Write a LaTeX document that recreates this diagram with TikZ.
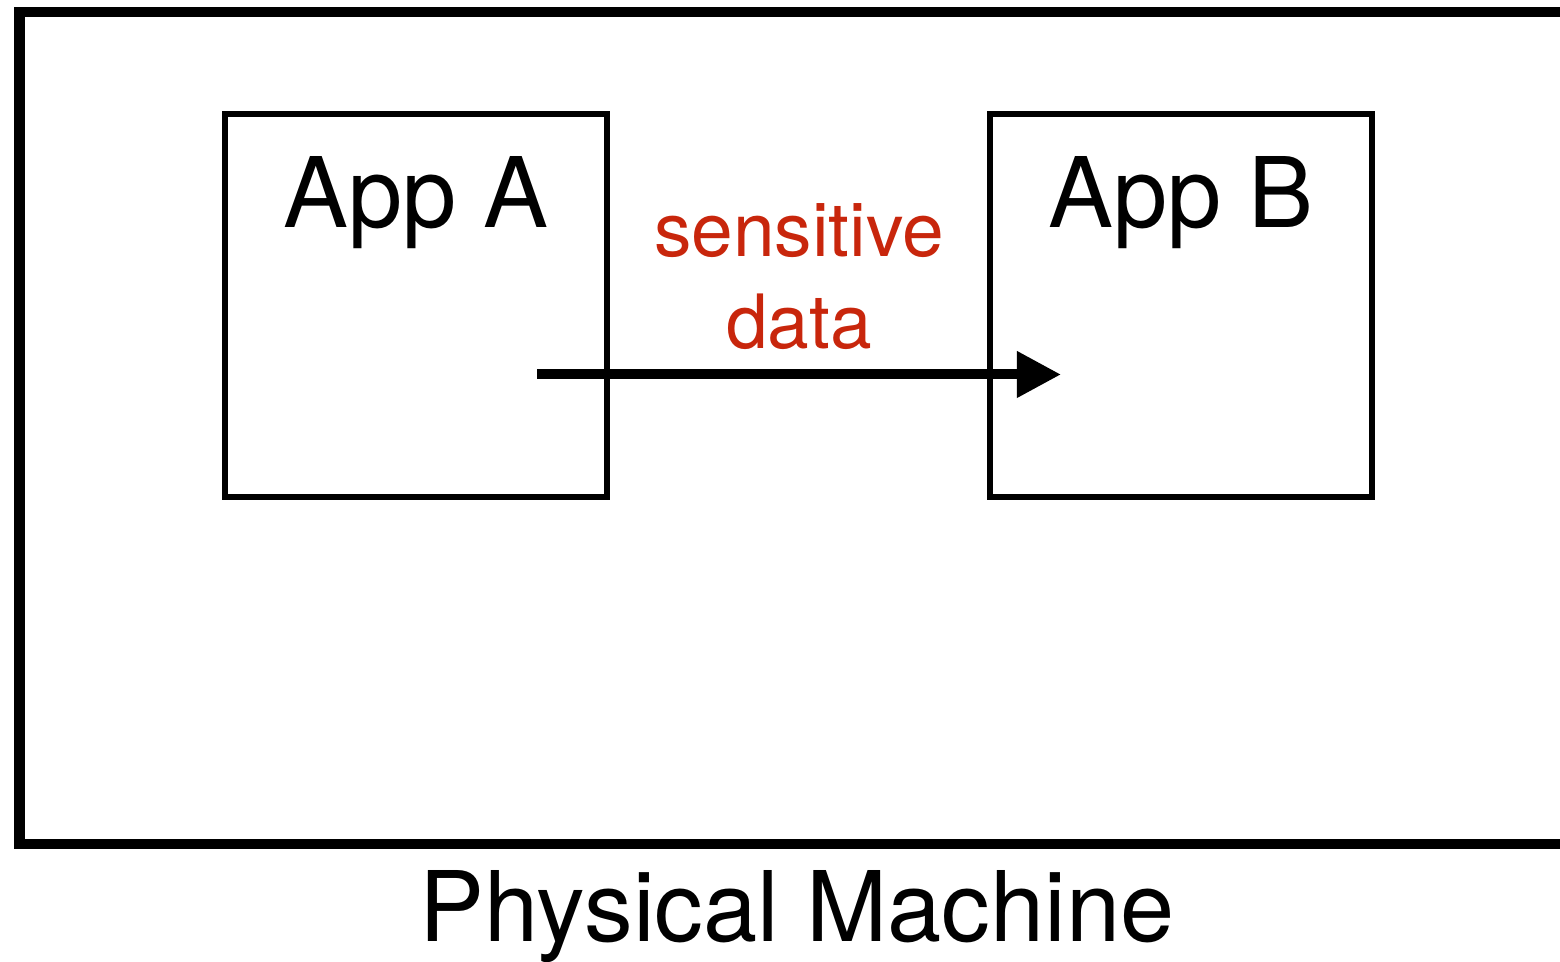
\documentclass[tikz,border=0pt]{standalone}
\usepackage{fontspec}
\setmainfont{TeX Gyre Heros}
\usetikzlibrary{arrows.meta}
\definecolor{datared}{RGB}{200,38,12}
\tikzset{
  machine/.style={draw=black, line width=2.85pt},
  appbox/.style={draw=black, line width=1.6pt, minimum width=3.82cm, minimum height=3.83cm, inner sep=0pt},
  bigtext/.style={font=\fontsize{27.7pt}{33pt}\selectfont, inner sep=0pt, anchor=base},
  flow/.style={line width=2.85pt, -{Triangle[length=0.44cm, width=0.44cm]}},
  flowlabel/.style={text=datared, font=\fontsize{21.3pt}{26.2pt}\selectfont, align=center, inner sep=0pt}
}
\begin{document}
\begin{tikzpicture}[x=0.01cm, y=-0.01cm]
  \useasboundingbox (0,0) rectangle (1560,962);
  % outer frame of the machine, running off the right edge
  \draw[machine] (1590,12) -- (19.5,12) -- (19.5,844) -- (1590,844);
  \node[bigtext] (machine) at (797,942) {Physical Machine};
  % the two applications
  \node[appbox] (appA) at (416,305.5) {};
  \node[appbox] (appB) at (1181,305.5) {};
  \node[bigtext] (labelA) at (416,228) {App A};
  \node[bigtext] (labelB) at (1181,228) {App B};
  % data flow from A into B
  \coordinate (src) at (537,374.5);
  \coordinate (dst) at (1061,374.5);
  \draw[flow] (src) -- (dst);
  \node[flowlabel] (data) at (799,277) {sensitive\\data};
\end{tikzpicture}
\end{document}
